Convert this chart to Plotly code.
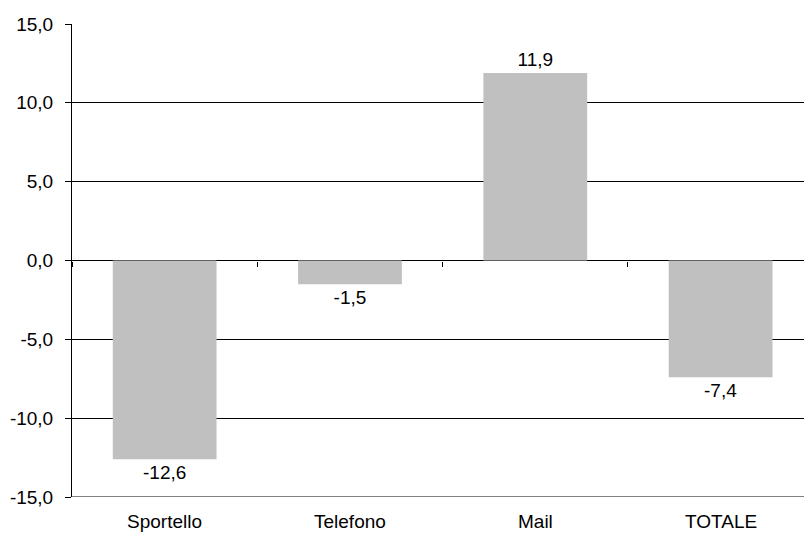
import plotly.graph_objects as go

categories = ["Sportello", "Telefono", "Mail", "TOTALE"]
values = [-12.6, -1.5, 11.9, -7.4]
y_ticks = [-15, -10, -5, 0, 5, 10, 15]
y_tick_labels = ["-15,0", "-10,0", "-5,0", "0,0", "5,0", "10,0", "15,0"]

FONT = "Liberation Sans, Arial, sans-serif"
X_RANGE = [-0.5, 3.45]
Y_RANGE = [-15, 15]


def it_fmt(v):
    return f"{v:.1f}".replace(".", ",")


fig = go.Figure()
fig.add_trace(go.Bar(
    x=categories,
    y=values,
    marker=dict(color="#C0C0C0", line=dict(width=0)),
    text=[it_fmt(v) for v in values],
    textposition="outside",
    constraintext="none",
    textfont=dict(family=FONT, size=19, color="black"),
    cliponaxis=False,
    hoverinfo="skip",
))

# category names along the bottom edge of the plot
for cat in categories:
    fig.add_annotation(
        x=cat, xref="x",
        y=0, yref="paper",
        text=cat,
        showarrow=False,
        yanchor="top",
        yshift=-12,
        font=dict(family=FONT, size=19, color="black"),
    )

# bottom border line at the axis minimum
fig.add_shape(
    type="line", xref="paper", yref="y",
    x0=0, x1=1, y0=Y_RANGE[0], y1=Y_RANGE[0],
    line=dict(color="black", width=1),
)

fig.update_layout(
    width=804,
    height=534,
    margin=dict(l=72, r=0, t=24, b=37),
    paper_bgcolor="white",
    plot_bgcolor="white",
    showlegend=False,
    bargap=0.44,
    font=dict(family=FONT, size=19, color="black"),
    # category axis crossing at y = 0, with tick marks between categories
    xaxis=dict(
        type="category",
        range=X_RANGE,
        anchor="free",
        position=0.5,
        tickson="boundaries",
        ticks="outside",
        ticklen=5,
        tickwidth=1,
        tickcolor="black",
        showticklabels=False,
        showgrid=False,
        zeroline=False,
        showline=False,
    ),
    yaxis=dict(
        range=Y_RANGE,
        tickmode="array",
        tickvals=y_ticks,
        ticktext=y_tick_labels,
        showgrid=True,
        gridcolor="black",
        gridwidth=1,
        zeroline=True,
        zerolinecolor="black",
        zerolinewidth=1,
        showline=True,
        linecolor="black",
        linewidth=1,
        ticks="outside",
        ticklen=6,
        tickcolor="black",
        ticklabelstandoff=8,
        tickfont=dict(family=FONT, size=19, color="black"),
    ),
)

fig.write_html("out.html")
